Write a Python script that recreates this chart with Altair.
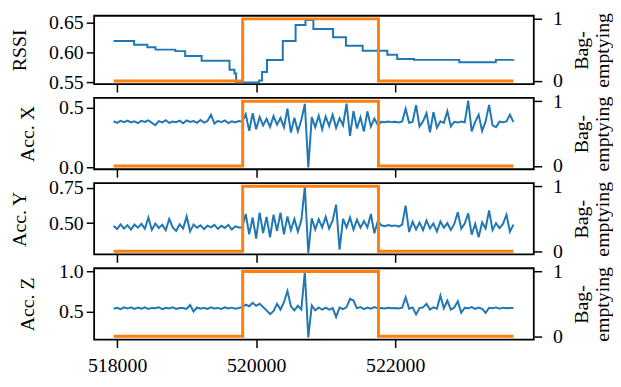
import altair as alt
import pandas as pd

# ---- data ----
sample_times = list(range(517950, 523750, 50))  # 116 samples

acc_x = [0.385, 0.372, 0.388, 0.378, 0.391, 0.375, 0.384, 0.370, 0.389, 0.380,
         0.393, 0.372, 0.352, 0.386, 0.376, 0.394, 0.371, 0.383, 0.377, 0.390,
         0.368, 0.392, 0.379, 0.386, 0.372, 0.395, 0.374, 0.388, 0.440, 0.366,
         0.389, 0.377, 0.392, 0.370, 0.385, 0.375, 0.388, 0.382, 0.445, 0.305,
         0.452, 0.318, 0.420, 0.350, 0.405, 0.338, 0.428, 0.356, 0.412, 0.334,
         0.490, 0.290, 0.415, 0.300, 0.395, 0.530, 0.000, 0.420, 0.335, 0.432,
         0.318, 0.425, 0.345, 0.440, 0.330, 0.410, 0.352, 0.532, 0.262, 0.470,
         0.325, 0.418, 0.300, 0.468, 0.340, 0.408, 0.352, 0.380, 0.376, 0.382,
         0.378, 0.381, 0.375, 0.383, 0.490, 0.372, 0.380, 0.520, 0.340, 0.384,
         0.452, 0.292, 0.462, 0.332, 0.385, 0.372, 0.470, 0.342, 0.381, 0.374,
         0.383, 0.376, 0.558, 0.300, 0.380, 0.440, 0.305, 0.384, 0.522, 0.350,
         0.336, 0.382, 0.376, 0.384, 0.440, 0.378]

acc_y = [0.480, 0.458, 0.492, 0.462, 0.486, 0.455, 0.490, 0.468, 0.495, 0.460,
         0.540, 0.452, 0.498, 0.466, 0.488, 0.450, 0.530, 0.470, 0.445, 0.492,
         0.462, 0.548, 0.442, 0.490, 0.468, 0.485, 0.458, 0.482, 0.470, 0.488,
         0.460, 0.482, 0.466, 0.488, 0.455, 0.478, 0.470, 0.470, 0.565, 0.420,
         0.540, 0.390, 0.575, 0.430, 0.545, 0.400, 0.560, 0.445, 0.575, 0.420,
         0.548, 0.450, 0.530, 0.440, 0.520, 0.760, 0.288, 0.535, 0.455, 0.528,
         0.470, 0.545, 0.462, 0.520, 0.632, 0.312, 0.530, 0.470, 0.540, 0.455,
         0.525, 0.468, 0.515, 0.470, 0.565, 0.428, 0.515, 0.485, 0.478, 0.486,
         0.480, 0.484, 0.476, 0.490, 0.625, 0.437, 0.510, 0.455, 0.505, 0.450,
         0.520, 0.462, 0.498, 0.440, 0.512, 0.468, 0.500, 0.452, 0.495, 0.578,
         0.460, 0.498, 0.570, 0.418, 0.495, 0.400, 0.505, 0.462, 0.590, 0.450,
         0.500, 0.465, 0.495, 0.560, 0.440, 0.490]

acc_z = [0.540, 0.552, 0.535, 0.556, 0.542, 0.558, 0.538, 0.553, 0.541, 0.557,
         0.536, 0.550, 0.545, 0.558, 0.534, 0.551, 0.543, 0.556, 0.538, 0.549,
         0.549, 0.538, 0.585, 0.507, 0.555, 0.541, 0.552, 0.537, 0.558, 0.544,
         0.550, 0.538, 0.556, 0.542, 0.553, 0.540, 0.548, 0.560, 0.590, 0.570,
         0.612, 0.575, 0.600, 0.560, 0.520, 0.475, 0.510, 0.600, 0.530, 0.620,
         0.756, 0.570, 0.520, 0.575, 0.530, 0.990, 0.190, 0.580, 0.520, 0.556,
         0.528, 0.552, 0.530, 0.548, 0.440, 0.555, 0.536, 0.560, 0.660, 0.640,
         0.545, 0.560, 0.535, 0.555, 0.540, 0.560, 0.545, 0.548, 0.542, 0.551,
         0.545, 0.550, 0.543, 0.552, 0.680, 0.540, 0.556, 0.470, 0.548, 0.556,
         0.600, 0.530, 0.558, 0.540, 0.700, 0.545, 0.640, 0.530, 0.555, 0.630,
         0.490, 0.552, 0.545, 0.560, 0.538, 0.555, 0.540, 0.490, 0.552, 0.545,
         0.556, 0.540, 0.553, 0.546, 0.550, 0.548]

rssi_times = [517950, 518245, 518435, 518553, 518837, 518979, 519216, 519617,
              519688, 519712, 520043, 520085, 520156, 520383, 520567, 520709,
              520823, 521106, 521291, 521532, 521887, 522028, 522270, 522922,
              523447, 523700]
rssi_vals = [0.619, 0.6126, 0.6086, 0.6045, 0.602, 0.594, 0.586, 0.5708,
             0.5647, 0.5496, 0.553, 0.567, 0.587, 0.6187, 0.6455, 0.654,
             0.639, 0.625, 0.611, 0.6025, 0.596, 0.589, 0.5874, 0.5833,
             0.5874, 0.588]

bag_times = [517950, 519806, 521759, 523700]
bag_vals = [0, 1, 0, 0]

x_ticks = [518000, 520000, 522000]
panel_titles = ["RSSI", "Acc. X", "Acc. Y", "Acc. Z"]
right_title = ["Bag-", "emptying"]

sensor_df = pd.DataFrame({"t": sample_times, "acc_x": acc_x, "acc_y": acc_y, "acc_z": acc_z})
rssi_df = pd.DataFrame({"t": rssi_times, "rssi": rssi_vals})
bag_df = pd.DataFrame({"t": bag_times, "bag": bag_vals})

FONT = "Liberation Serif"
W = 444
XS = alt.Scale(domain=[517670, 523993], nice=False, zero=False)


def panel(df, col, title, dom, ticks, fmt, title_x, last, h, step=False):
    xaxis = alt.Axis(values=x_ticks, format="d", labels=last, title=None,
                     labelPadding=8)
    line_kw = dict(color="#1f77b4", strokeWidth=2, clip=True)
    if step:
        line_kw["interpolate"] = "step-after"
    blue = alt.Chart(df).mark_line(**line_kw).encode(
        x=alt.X("t:Q", scale=XS, axis=xaxis),
        y=alt.Y(f"{col}:Q", scale=alt.Scale(domain=dom, nice=False, zero=False),
                axis=alt.Axis(values=ticks, format=fmt, title=title,
                              titleX=title_x, titleY=h / 2, titleAngle=270,
                              titleBaseline="bottom", titleAlign="center",
                              labelPadding=3)),
    )
    orange = alt.Chart(bag_df).mark_line(color="#ff7f0e", strokeWidth=3,
                                          interpolate="step-after").encode(
        x=alt.X("t:Q", scale=XS, axis=xaxis),
        y=alt.Y("bag:Q", scale=alt.Scale(domain=[-0.05, 1.05], nice=False, zero=False),
                axis=alt.Axis(orient="right", values=[0, 1], format="d",
                              labelPadding=11,
                              title=right_title, titleAngle=270,
                              titleBaseline="top", titleAlign="center",
                              titleX=38, titleY=h / 2, titleLineHeight=21)),
    )
    return alt.layer(blue, orange).resolve_scale(y="independent").properties(width=W, height=h)


p1 = panel(rssi_df, "rssi", panel_titles[0], [0.547, 0.661], [0.55, 0.60, 0.65], ".2f", -65, False, 69, step=True)
p2 = panel(sensor_df, "acc_x", panel_titles[1], [-0.016, 0.58], [0.0, 0.5], ".1f", -57, False, 72)
p3 = panel(sensor_df, "acc_y", panel_titles[2], [0.278, 0.785], [0.50, 0.75], ".2f", -65, False, 72)
p4 = panel(sensor_df, "acc_z", panel_titles[3], [0.163, 1.035], [0.5, 1.0], ".1f", -57, True, 72)

chart = alt.vconcat(p1, p2, p3, p4, spacing=14, bounds="flush").properties(
    padding={"left": 1, "top": -2, "right": 0, "bottom": 0}
).configure_view(
    stroke="black", strokeWidth=1.8
).configure_axis(
    labelFont=FONT, labelFontSize=20, labelColor="black",
    titleFont=FONT, titleFontSize=20, titleFontWeight="normal", titleColor="black",
    tickColor="black", tickWidth=1.5, tickSize=8, domain=False, grid=False,
)

chart.save("out.html", embed_options={"renderer": "svg", "actions": False})
